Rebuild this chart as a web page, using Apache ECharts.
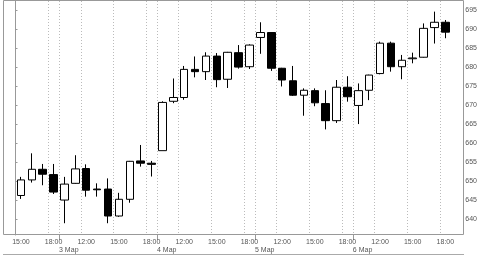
<!DOCTYPE html>
<html><head><meta charset="utf-8">
<script src="https://cdn.jsdelivr.net/npm/echarts@6/dist/echarts.min.js"></script>
<style>html,body{margin:0;padding:0;background:#fff}#c{width:480px;height:256px}</style>
</head><body><div id="c"></div>
<script>
const hours = ['15:00','16:00','17:00','18:00',
  '10:00','11:00','12:00','13:00','14:00','15:00','16:00','17:00','18:00',
  '10:00','11:00','12:00','13:00','14:00','15:00','16:00','17:00','18:00',
  '10:00','11:00','12:00','13:00','14:00','15:00','16:00','17:00','18:00',
  '10:00','11:00','12:00','13:00','14:00','15:00','16:00','17:00','18:00'];
const dayLabels = ['3 Мар','4 Мар','5 Мар','6 Мар'];
const labeledHours = ['12:00','15:00','18:00'];
const dayStartHour = '10:00';
const yTicks = [640,645,650,655,660,665,670,675,680,685,690,695];

const openV  = [646.2,650.3,653.1,651.7,645.0,649.4,653.3,647.9,647.9,640.8,645.2,655.3,654.7,658.0,671.0,672.0,679.4,678.8,682.9,676.8,683.8,680.1,687.8,689.1,679.7,676.4,672.6,673.8,670.4,665.9,674.7,669.9,673.9,678.3,686.3,680.1,682.2,682.6,690.4,691.8];
const closeV = [650.3,653.1,651.8,647.1,649.2,653.2,647.6,647.7,640.8,645.2,655.2,654.7,654.4,670.7,672.0,679.4,678.8,682.9,676.7,683.9,680.0,685.8,689.1,679.7,676.6,672.6,673.9,670.6,665.9,674.7,672.2,673.8,677.9,686.3,680.1,681.8,682.4,690.2,691.8,689.2];
const lowV   = [645.3,649.6,648.9,646.6,638.9,649.3,645.9,645.9,638.9,640.6,644.3,653.8,651.2,658.0,670.5,671.4,677.3,676.6,674.7,674.5,679.6,679.5,683.5,679.0,674.9,672.4,667.2,669.7,663.6,665.3,670.9,665.0,671.3,678.1,678.8,676.8,681.0,682.5,686.2,687.6];
const highV  = [651.1,657.3,654.5,654.5,651.1,656.8,654.4,649.4,650.7,646.9,655.3,659.5,655.3,671.0,677.0,680.3,682.8,683.9,683.7,684.0,685.8,686.0,691.8,689.2,679.8,680.3,674.4,674.4,673.9,676.6,677.6,675.7,678.0,686.7,686.7,683.2,683.8,691.5,694.6,692.4];

const dayStarts = hours.map((h, i) => h === dayStartHour ? i : -1).filter(i => i >= 0);
const ohlc = openV.map((o, i) => [o, closeV[i], lowV[i], highV[i]]);

const FONT = 'Liberation Sans';
const TXT = '#555';
const FRAME = '#999';

const chart = echarts.init(document.getElementById('c'), null, {renderer: 'canvas'});
chart.setOption({
  animation: false,
  backgroundColor: '#fff',
  grid: {left: 15.5, right: 27.5, top: 1, bottom: 21},
  xAxis: [{
    type: 'category', data: hours, boundaryGap: true,
    axisLine: {show: false}, axisTick: {show: false},
    axisLabel: {interval: (i, v) => labeledHours.includes(v), fontFamily: FONT, fontSize: 7, color: TXT, margin: 4},
    splitLine: {show: true, showMaxLine: false, interval: (i, v) => labeledHours.includes(v) || v === dayStartHour,
      lineStyle: {type: [1, 2], color: '#bbb', width: 1}}
  }, {
    type: 'value', position: 'bottom', min: 0, max: hours.length,
    axisLine: {show: false}, splitLine: {show: false},
    axisTick: {show: true, customValues: dayStarts, length: 5, lineStyle: {color: FRAME}},
    axisLabel: {customValues: dayStarts, formatter: v => dayLabels[dayStarts.indexOf(v)], align: 'left',
      fontFamily: FONT, fontSize: 7, color: TXT, margin: 12}
  }],
  yAxis: {
    type: 'value', position: 'right', offset: 11.5, min: 635.8, max: 697.4,
    axisLine: {show: true, lineStyle: {color: FRAME}},
    axisTick: {show: true, length: 2, customValues: yTicks, lineStyle: {color: FRAME}},
    axisLabel: {customValues: yTicks, fontFamily: FONT, fontSize: 7, color: TXT, margin: 3},
    splitLine: {show: false}
  },
  graphic: [
    {type: 'rect', silent: true, shape: {x: 3.5, y: 0.5, width: 460, height: 234}, style: {fill: null, stroke: FRAME, lineWidth: 1}},
    {type: 'line', silent: true, shape: {x1: 3, y1: 254.5, x2: 464, y2: 254.5}, style: {stroke: '#aaa', lineWidth: 1}}
  ],
  series: [{
    type: 'candlestick', data: ohlc, barWidth: 8,
    itemStyle: {color: '#fff', color0: '#000', borderColor: '#000', borderColor0: '#000', borderWidth: 1},
    emphasis: {disabled: true}
  }]
});
</script></body></html>
